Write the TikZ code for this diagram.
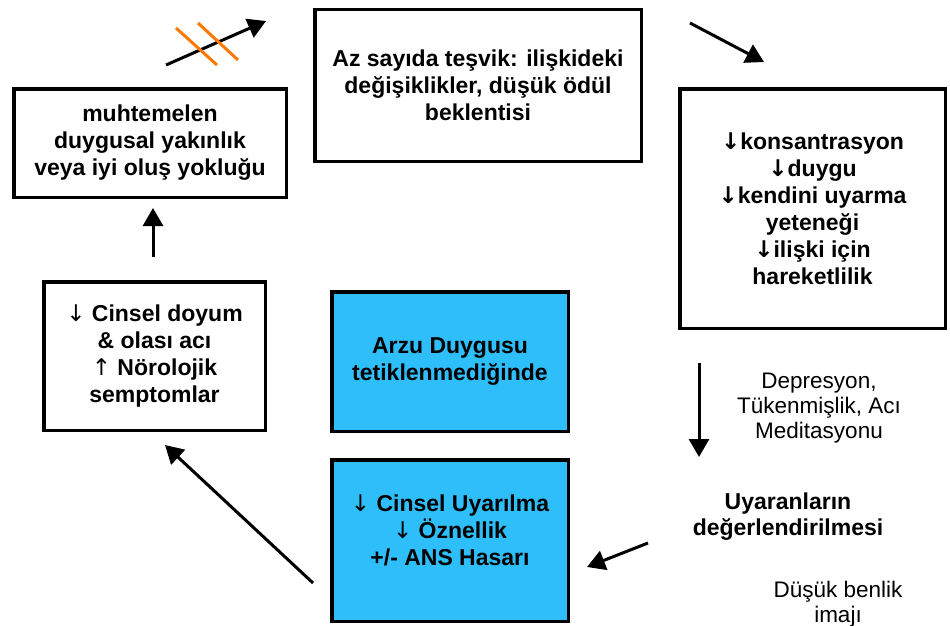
\documentclass[tikz,border=0pt]{standalone}
\usepackage{fontspec}
\setmainfont{Liberation Sans}
\newfontfamily\arrowfont{DejaVu Sans}
\newcommand\myDown{{\arrowfont\bfseries ↓}}
\newcommand\myThinDown{{\arrowfont\mdseries ↓}}
\newcommand\myThinUp{{\arrowfont\mdseries ↑}}
\usetikzlibrary{arrows.meta}
\definecolor{skyblue}{RGB}{46,190,250}
\definecolor{crossorange}{RGB}{255,120,0}
\begin{document}
\begin{tikzpicture}[x=1pt,y=-1pt,
  box/.style={draw, line width=3.5pt, align=center, inner sep=0pt,
    font=\bfseries\fontsize{23}{27}\selectfont},
  bluebox/.style={box, fill=skyblue},
  arr/.style={line width=3pt, -{Triangle[length=18pt,width=20pt]}},
  plaintext/.style={align=center, font=\fontsize{22.5}{25}\selectfont, inner sep=0pt},
  boldtext/.style={align=center, font=\bfseries\fontsize{23}{26}\selectfont, inner sep=0pt},
  cross/.style={crossorange, line width=3pt}]
\useasboundingbox (0,0) rectangle (950,626);

% boxes
\node[box, minimum width=272.5pt, minimum height=108.5pt] (intim) at (150,143)
  {muhtemelen\\duygusal yakınlık\\veya iyi oluş yokluğu};
\node[box, minimum width=326.5pt, minimum height=151.5pt] (tesvik) at (478,85.5)
  {Az sayıda teşvik: ilişkideki\\değişiklikler, düşük ödül\\beklentisi};
\node[box, minimum width=265.5pt, minimum height=239.5pt] (kons) at (812.5,208.5)
  {\myDown konsantrasyon\\\myDown duygu\\\myDown kendini uyarma\\yeteneği\\\myDown ilişki için\\hareketlilik};
\node[box, minimum width=221.5pt, minimum height=148.5pt] (doyum) at (154.5,356)
  {\myThinDown{} Cinsel doyum\\\& olası acı\\\myThinUp{} Nörolojik\\semptomlar};
\node[bluebox, minimum width=236.5pt, minimum height=139.5pt] (arzu) at (450,361.5)
  {Arzu Duygusu\\tetiklenmediğinde};
\node[bluebox, minimum width=236.5pt, minimum height=161.5pt] (uyarilma) at (450,540.5) {};
\node[boldtext, font=\bfseries\fontsize{23}{27}\selectfont] (uyarilmatext) at (450,530)
  {\myThinDown{} Cinsel Uyarılma\\\myThinDown{} Öznellik\\+/- ANS Hasarı};

% free texts
\node[plaintext] (depresyon) at (819,408) {Depresyon,\\Tükenmişlik, Acı\\Meditasyonu};
\node[boldtext] (uyaran) at (788,517) {Uyaranların\\değerlendirilmesi};
\node[plaintext] (benlik) at (838,604) {Düşük benlik\\imajı};

% arrow end points
\coordinate (a1s) at (166,65);  \coordinate (a1e) at (266,21);
\coordinate (a2s) at (690,23);  \coordinate (a2e) at (764,62);
\coordinate (a3s) at (699,363); \coordinate (a3e) at (699,457);
\coordinate (a4s) at (648,543); \coordinate (a4e) at (587,567);
\coordinate (a5s) at (313,583); \coordinate (a5e) at (165,445);
\coordinate (a6s) at (153,257); \coordinate (a6e) at (153,208);
\coordinate (c1s) at (176,28);  \coordinate (c1e) at (217,65);
\coordinate (c2s) at (198,23);  \coordinate (c2e) at (238,60);

\draw[arr] (a1s) -- (a1e);
\draw[cross] (c1s) -- (c1e);
\draw[cross] (c2s) -- (c2e);
\draw[arr] (a2s) -- (a2e);
\draw[arr] (a3s) -- (a3e);
\draw[arr] (a4s) -- (a4e);
\draw[arr] (a5s) -- (a5e);
\draw[arr] (a6s) -- (a6e);
\end{tikzpicture}
\end{document}
